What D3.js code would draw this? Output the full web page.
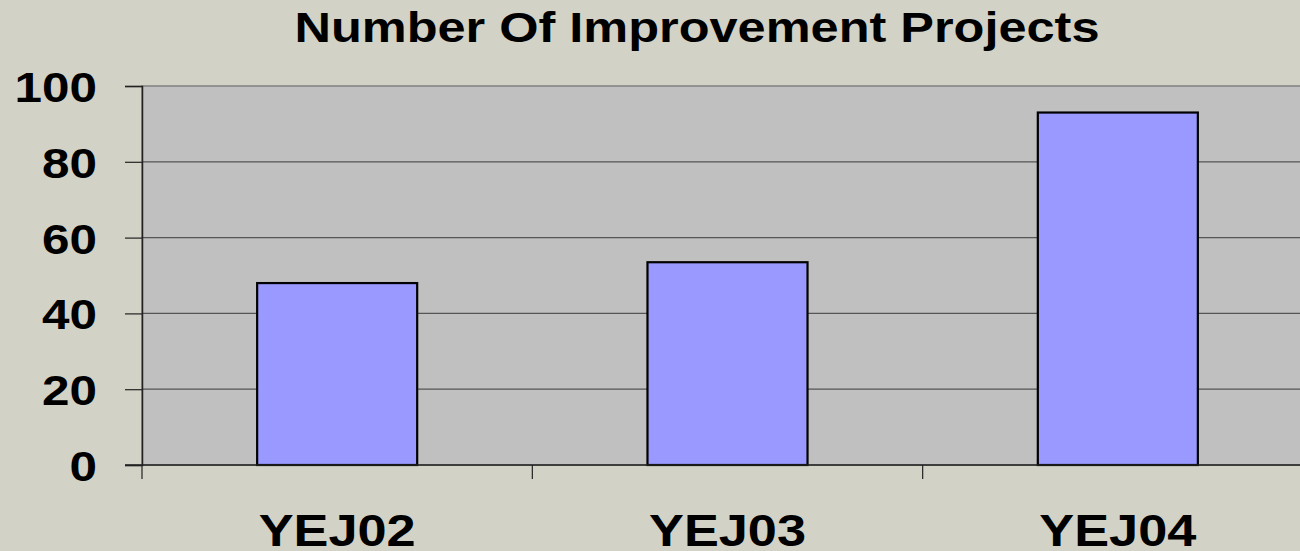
<!DOCTYPE html>
<html>
<head>
<meta charset="utf-8">
<script src="https://cdn.jsdelivr.net/npm/d3@7"></script>
<style>
  body { margin: 0; background: #d2d2c6; }
  svg { display: block; font-family: "Liberation Sans", Arial, sans-serif; }
</style>
</head>
<body>
<div id="chart"></div>
<script>
const categories = ["YEJ02", "YEJ03", "YEJ04"];
const projectCounts = [48, 53.5, 93];
const yTicks = [0, 20, 40, 60, 80, 100];

function drawChart() {
    const W = 1300, H = 551;
    const margin = { top: 86, right: -13, bottom: 86, left: 142 };
    const width = W - margin.left - margin.right;
    const height = H - margin.top - margin.bottom;

    const svg = d3.select("#chart").append("svg")
        .attr("width", W)
        .attr("height", H);

    svg.append("rect").attr("width", W).attr("height", H).attr("fill", "#d2d2c6");

    const g = svg.append("g")
        .attr("transform", `translate(${margin.left},${margin.top})`);

    const x = d3.scaleBand()
        .domain(categories)
        .range([0, width])
        .paddingInner(0.59)
        .paddingOuter(0.295);

    const y = d3.scaleLinear()
        .domain([0, 100])
        .range([height, 0]);

    // plot area
    g.append("rect")
        .attr("width", width)
        .attr("height", height)
        .attr("fill", "#c0c0c0")
        .attr("stroke", "#808080")
        .attr("stroke-width", 1.5);

    // gridlines
    g.selectAll(".grid")
        .data(yTicks.filter(d => d > 0 && d < 100))
        .enter().append("line")
        .attr("x1", 0).attr("x2", width)
        .attr("y1", d => y(d)).attr("y2", d => y(d))
        .attr("stroke", "#555")
        .attr("stroke-width", 1.2);

    // bars
    const data = categories.map((c, i) => ({ name: c, value: projectCounts[i] }));
    g.selectAll(".bar")
        .data(data)
        .enter().append("rect")
        .attr("class", "bar")
        .attr("x", d => x(d.name))
        .attr("y", d => y(d.value))
        .attr("width", x.bandwidth())
        .attr("height", d => height - y(d.value))
        .attr("fill", "#9999ff")
        .attr("stroke", "#000")
        .attr("stroke-width", 2.2);

    // y axis
    const yAxis = g.append("g")
        .call(d3.axisLeft(y).tickValues(yTicks).tickSize(17).tickPadding(28));
    yAxis.select(".domain").attr("stroke", "#222").attr("stroke-width", 1.5);
    yAxis.selectAll(".tick line").attr("stroke", "#222").attr("stroke-width", 1.2);
    yAxis.selectAll(".tick text")
        .attr("font-size", 43)
        .attr("font-weight", "bold")
        .attr("fill", "#000")
        .attr("font-family", "Liberation Sans, Arial, sans-serif")
        .attr("dy", "0.36em")
        .attr("textLength", d => String(d).length * 27.5)
        .attr("lengthAdjust", "spacingAndGlyphs");

    // x axis: line with ticks at category boundaries
    const step = x.step();
    const bounds = d3.range(categories.length + 1).map(i => i * step);
    g.append("line")
        .attr("x1", -17).attr("x2", width)
        .attr("y1", height).attr("y2", height)
        .attr("stroke", "#222").attr("stroke-width", 1.5);
    g.selectAll(".xtick")
        .data(bounds)
        .enter().append("line")
        .attr("x1", d => d).attr("x2", d => d)
        .attr("y1", height).attr("y2", height + 14)
        .attr("stroke", "#222").attr("stroke-width", 1.2);

    g.selectAll(".xlabel")
        .data(categories)
        .enter().append("text")
        .attr("x", d => x(d) + x.bandwidth() / 2)
        .attr("y", height + 81)
        .attr("text-anchor", "middle")
        .attr("font-size", 44)
        .attr("font-weight", "bold")
        .attr("fill", "#000")
        .attr("textLength", 157)
        .attr("lengthAdjust", "spacingAndGlyphs")
        .text(d => d);

    // title
    svg.append("text")
        .attr("x", 697)
        .attr("y", 42)
        .attr("text-anchor", "middle")
        .attr("font-size", 42)
        .attr("font-weight", "bold")
        .attr("fill", "#000")
        .attr("textLength", 805)
        .attr("lengthAdjust", "spacingAndGlyphs")
        .text("Number Of Improvement Projects");
}

drawChart();
</script>
</body>
</html>
